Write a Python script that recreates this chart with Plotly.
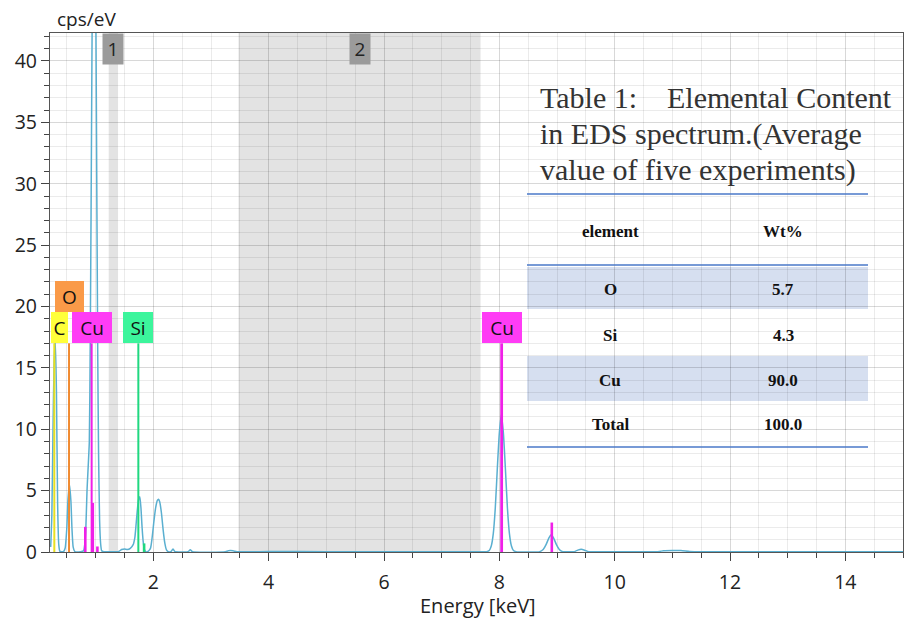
import plotly.graph_objects as go

# ---------------- data ----------------
energy = [0.22, 0.24, 0.26, 0.28, 0.30, 0.32, 0.34, 0.36, 0.38, 0.44,
          0.47, 0.50, 0.52, 0.545, 0.57, 0.59, 0.61, 0.64, 0.74,
          0.79, 0.81, 0.83, 0.85, 0.89, 0.905, 0.92, 0.935, 0.952, 0.972,
          0.992, 1.008, 1.022, 1.036, 1.05, 1.068, 1.086, 1.104, 1.14,
          1.40, 1.45, 1.50, 1.55, 1.60, 1.65, 1.68, 1.70, 1.72, 1.745, 1.765,
          1.785, 1.805, 1.825, 1.845, 1.87, 1.90, 1.95, 1.98, 2.01, 2.04,
          2.07, 2.09, 2.11, 2.14, 2.17, 2.20, 2.23, 2.26, 2.31, 2.34, 2.37,
          2.60, 2.64, 2.68, 3.25, 3.30, 3.38, 3.45, 4.0, 5.0, 6.0, 7.0,
          7.78, 7.825, 7.86, 7.895, 7.93, 7.965, 8.0, 8.035, 8.07, 8.105,
          8.14, 8.175, 8.21, 8.245, 8.29, 8.70, 8.76, 8.81, 8.86, 8.90,
          8.94, 8.99, 9.04, 9.10, 9.30, 9.36, 9.42, 9.48, 9.55, 10.0,
          10.75, 10.85, 11.0, 11.15, 11.3, 11.5, 12.5, 13.5, 15.0]
cps = [0.4, 3.0, 10.0, 15.5, 17.2, 13.0, 4.0, 0.6, 0.05, 0.02,
       0.3, 2.0, 4.3, 5.5, 4.2, 1.8, 0.4, 0.03, 0.03,
       0.1, 0.6, 2.0, 5.0, 9.0, 16.5, 27.5, 40.0, 52.0, 60.0,
       52.0, 40.0, 27.5, 16.0, 8.1, 2.6, 0.67, 0.1, 0.03,
       0.05, 0.2, 0.25, 0.2, 0.3, 0.6, 1.2, 2.2, 3.3, 4.3, 4.5,
       3.6, 2.0, 0.8, 0.2, 0.03, 0.02, 0.3, 1.2, 2.5, 3.6,
       4.2, 4.3, 4.1, 3.2, 1.8, 0.7, 0.15, 0.02, 0.05, 0.25, 0.05,
       0.02, 0.18, 0.02, 0.02, 0.1, 0.1, 0.02, 0.04, 0.03, 0.03, 0.03,
       0.03, 0.12, 0.49, 1.5, 3.6, 6.8, 9.7, 11.2, 9.7, 6.8,
       3.6, 1.5, 0.49, 0.12, 0.03, 0.03, 0.2, 0.6, 1.15, 1.4,
       1.15, 0.6, 0.2, 0.03, 0.03, 0.15, 0.22, 0.15, 0.03, 0.03,
       0.03, 0.1, 0.12, 0.12, 0.05, 0.02, 0.02, 0.02, 0.02]

# element line markers
mk_elem = ['C', 'O', 'Cu', 'Cu', 'Cu', 'Cu', 'Si', 'Si', 'Cu', 'Cu']
mk_energy = [0.283, 0.538, 0.93, 0.82, 0.95, 1.03, 1.74, 1.84, 8.04, 8.91]
mk_height = [17.0, 17.0, 17.0, 2.05, 4.0, 0.45, 17.0, 0.7, 17.0, 2.4]

# element labels
lab_text = ['C', 'O', 'Cu', 'Si', 'Cu']
lab_energy = [0.283, 0.538, 0.93, 1.74, 8.04]

# regions of interest
reg_label = ['1', '2']
reg_start = [1.226, 3.477]
reg_end = [1.388, 7.674]

# table
tbl_title = ['Table 1:\u00a0\u00a0\u00a0\u00a0Elemental Content',
             'in EDS spectrum.(Average',
             'value of five experiments)']
tbl_head = ['element', 'Wt%']
tbl_element = ['O', 'Si', 'Cu', 'Total']
tbl_wt = [5.7, 4.3, 90.0, 100.0]

x_ticks = [2, 4, 6, 8, 10, 12, 14]
y_ticks = [0, 5, 10, 15, 20, 25, 30, 35, 40]

# ---------------- layout geometry ----------------
W, H = 905, 624
ML, MR, MT, MB = 50, 2, 33, 72
PW, PH = W - ML - MR, H - MT - MB
XR = [0.208, 15.0]
YR = [0, 42.28]
KEV_PX = PW / (XR[1] - XR[0])
Y_PX = PH / (YR[1] - YR[0])


def pxx(p):
    return (p - ML) / PW


def pxy(p):
    return (H - MB - p) / PH


elem_color = {'C': '#ffff3a', 'O': '#fa9a48', 'Cu': '#ff3cf5', 'Si': '#3cf59c'}
elem_line = {'C': '#e8e020', 'O': '#f08a30', 'Cu': '#f020e8', 'Si': '#20d880'}

fig = go.Figure()

# spectrum
fig.add_trace(go.Scatter(x=energy, y=cps, mode='lines',
                         line=dict(color='#5aafd0', width=1.5, shape='spline', smoothing=0.5),
                         hoverinfo='skip', showlegend=False))

# marker lines
for i, (el, e, h) in enumerate(zip(mk_elem, mk_energy, mk_height)):
    w = 2.0
    if h < 17:
        w = 2.6
    if e > 8 and h >= 17:
        w = 2.8
    fig.add_trace(go.Scatter(x=[e, e], y=[0, h], mode='lines',
                             line=dict(color=elem_line[el], width=w),
                             hoverinfo='skip', showlegend=False))

shapes = []
annotations = []

# regions
for lab, s, e in zip(reg_label, reg_start, reg_end):
    shapes.append(dict(type='rect', xref='x', yref='paper', x0=s, x1=e, y0=0, y1=1,
                       fillcolor='#e3e3e3', line=dict(width=0), layer='below'))
    annotations.append(dict(x=(s + e) / 2, y=1, xref='x', yref='paper', text=lab,
                            showarrow=False, xanchor='center', yanchor='top',
                            width=20, height=30, bgcolor='#9b9b9b', borderpad=0,
                            font=dict(family='Open Sans', size=19, color='#222')))

# element label boxes
box_h = 31 / Y_PX
for t, e in zip(lab_text, lab_energy):
    wpx = {'C': 17, 'O': 29, 'Cu': 40, 'Si': 30}[t]
    y0 = 17.0
    if t == 'O':
        y0 = 17.0 + box_h
    xc = e
    if t == 'C':
        xc = XR[0] + (0.7 + wpx / 2) / KEV_PX
    annotations.append(dict(x=xc, y=y0, xref='x', yref='y', text=t, showarrow=False,
                            xanchor='center', yanchor='bottom', width=wpx, height=31,
                            bgcolor=elem_color[t], borderpad=0, borderwidth=0,
                            font=dict(family='Open Sans', size=19, color='#111')))

# table
tl, tr = 527, 868
for yy in [194, 265, 447]:
    shapes.append(dict(type='line', xref='paper', yref='paper', x0=pxx(tl), x1=pxx(tr),
                       y0=pxy(yy), y1=pxy(yy), line=dict(color='#4a78c8', width=1.5)))
for (a, b) in [(267, 309), (356, 401)]:
    shapes.append(dict(type='rect', xref='paper', yref='paper', x0=pxx(tl), x1=pxx(tr),
                       y0=pxy(b), y1=pxy(a), fillcolor='#d6dff0', line=dict(width=0),
                       layer='below'))
title_y = [97, 134, 170]
for t, yy in zip(tbl_title, title_y):
    annotations.append(dict(x=pxx(538), y=pxy(yy), xref='paper', yref='paper', text=t,
                            showarrow=False, xanchor='left', yanchor='middle',
                            font=dict(family='Liberation Serif', size=30, color='#333')))
col_x = [610, 783]
row_y = [289, 335, 380, 424]
cell_font = dict(family='Liberation Serif', size=17, color='#111')
for t, cx in zip(tbl_head, col_x):
    annotations.append(dict(x=pxx(cx), y=pxy(231), xref='paper', yref='paper',
                            text='<b>%s</b>' % t, showarrow=False,
                            xanchor='center', yanchor='middle', font=cell_font))
for el, v, yy in zip(tbl_element, tbl_wt, row_y):
    annotations.append(dict(x=pxx(col_x[0]), y=pxy(yy), xref='paper', yref='paper',
                            text='<b>%s</b>' % el, showarrow=False,
                            xanchor='center', yanchor='middle', font=cell_font))
    annotations.append(dict(x=pxx(col_x[1]), y=pxy(yy), xref='paper', yref='paper',
                            text='<b>%.1f</b>' % v, showarrow=False,
                            xanchor='center', yanchor='middle', font=cell_font))

# axis titles
annotations.append(dict(x=pxx(55), y=pxy(19), xref='paper', yref='paper', text='cps/eV',
                        showarrow=False, xanchor='left', yanchor='middle',
                        font=dict(family='Open Sans', size=19, color='#222')))
annotations.append(dict(x=pxx(478), y=pxy(605), xref='paper', yref='paper',
                        text='Energy [keV]', showarrow=False, xanchor='center',
                        yanchor='middle',
                        font=dict(family='Open Sans', size=20, color='#222')))

grid = 'rgba(0,0,0,0.08)'
fig.update_layout(
    width=W, height=H, margin=dict(l=ML, r=MR, t=MT, b=MB),
    paper_bgcolor='white', plot_bgcolor='white',
    shapes=shapes, annotations=annotations, showlegend=False,
    xaxis=dict(range=XR, tickvals=x_ticks, ticks='outside', ticklen=8, tickcolor='#444',
               tickwidth=1.2, showline=True, linecolor='#555', linewidth=1.2, mirror=True,
               showgrid=True, gridcolor=grid, zeroline=False,
               tickfont=dict(family='Open Sans', size=19.5, color='#222'),
               ticklabelstandoff=4,
               minor=dict(dtick=0.5, tick0=0, ticks='outside', ticklen=5, tickcolor='#444',
                          showgrid=True, gridcolor=grid)),
    yaxis=dict(range=YR, tickvals=y_ticks, ticks='outside', ticklen=8, tickcolor='#444',
               tickwidth=1.2, showline=True, linecolor='#555', linewidth=1.2, mirror=True,
               showgrid=True, gridcolor=grid, zeroline=False,
               tickfont=dict(family='Open Sans', size=19.5, color='#222'),
               minor=dict(dtick=1, tick0=0, ticks='outside', ticklen=5, tickcolor='#444',
                          showgrid=True, gridcolor=grid)),
)

fig.write_html('out.html', config={'displayModeBar': False},
               post_script="document.body.style.margin='0px';document.body.style.overflow='hidden';")
